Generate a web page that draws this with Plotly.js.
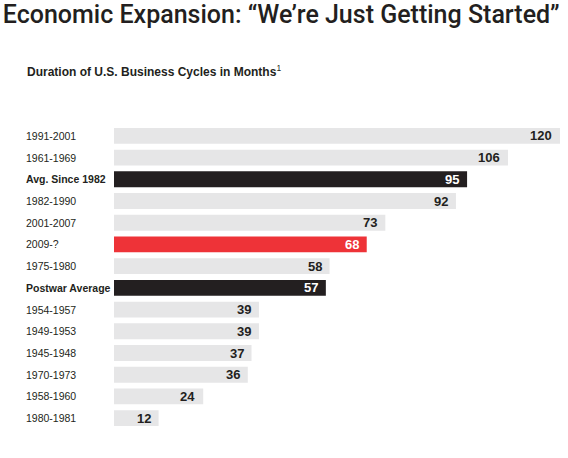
<!DOCTYPE html>
<html>
<head>
<meta charset="utf-8">
<script src="https://cdn.plot.ly/plotly-3.0.1.min.js"></script>
<style>html,body{margin:0;padding:0;background:#fff;}#chart{width:568px;height:458px;}</style>
</head>
<body>
<div id="chart"></div>
<script>
const categories = ["1991-2001","1961-1969","Avg. Since 1982","1982-1990","2001-2007","2009-?","1975-1980","Postwar Average","1954-1957","1949-1953","1945-1948","1970-1973","1958-1960","1980-1981"];
const months = [120,106,95,92,73,68,58,57,39,39,37,36,24,12];
const barKinds = ["cycle","cycle","avg","cycle","cycle","current","cycle","avg","cycle","cycle","cycle","cycle","cycle","cycle"];

const fillFor = {cycle:"#e6e6e7", avg:"#231f20", current:"#ee3338"};
const textFor = {cycle:"#231f20", avg:"#ffffff", current:"#ffffff"};

const FONT = "Liberation Sans, Arial, sans-serif";

const trace = {
  type: "bar",
  orientation: "h",
  y: categories,
  x: months,
  marker: {color: barKinds.map(k => fillFor[k]), line: {width: 0}},
  hoverinfo: "none"
};

const valueAnnotations = categories.map((c, i) => ({
  xref: "x", yref: "y",
  x: months[i], y: c,
  xanchor: "right", yanchor: "middle",
  xshift: -6,
  text: "<b>" + months[i] + "</b>",
  showarrow: false,
  font: {family: FONT, size: 13, color: textFor[barKinds[i]]}
}));

const labelAnnotations = categories.map((c, i) => ({
  xref: "paper", yref: "y",
  x: -(114 - 24) / 446, y: c,
  xanchor: "left", yanchor: "middle",
  text: barKinds[i] === "avg" ? "<b>" + c + "</b>" : c,
  showarrow: false,
  font: {family: FONT, size: 10.5, color: "#231f20"}
}));

const layout = {
  width: 568, height: 458,
  margin: {l: 114, r: 8, t: 125, b: 29},
  paper_bgcolor: "#ffffff",
  plot_bgcolor: "#ffffff",
  showlegend: false,
  bargap: 0.27,
  title: {
    text: "Economic Expansion: \u201cWe\u2019re Just Getting Started\u201d",
    x: 0.005, xanchor: "left", xref: "container",
    y: 1 - 5/458, yanchor: "top", yref: "container",
    font: {family: "Roboto, Liberation Sans, sans-serif", size: 25, color: "#231f20", weight: 500}
  },
  xaxis: {range: [0, 120], visible: false, fixedrange: true},
  yaxis: {autorange: "reversed", showticklabels: false, showgrid: false, zeroline: false, showline: false, ticks: "", fixedrange: true},
  annotations: [
    {
      xref: "paper", yref: "paper",
      x: -(114 - 25) / 446, y: 1 + (125 - 71) / 304,
      xanchor: "left", yanchor: "middle",
      text: "<b>Duration of U.S. Business Cycles in Months</b><sup>1</sup>",
      showarrow: false,
      font: {family: FONT, size: 12, color: "#231f20"}
    }
  ].concat(valueAnnotations, labelAnnotations)
};

Plotly.newPlot("chart", [trace], layout, {displayModeBar: false, staticPlot: true});
</script>
</body>
</html>
